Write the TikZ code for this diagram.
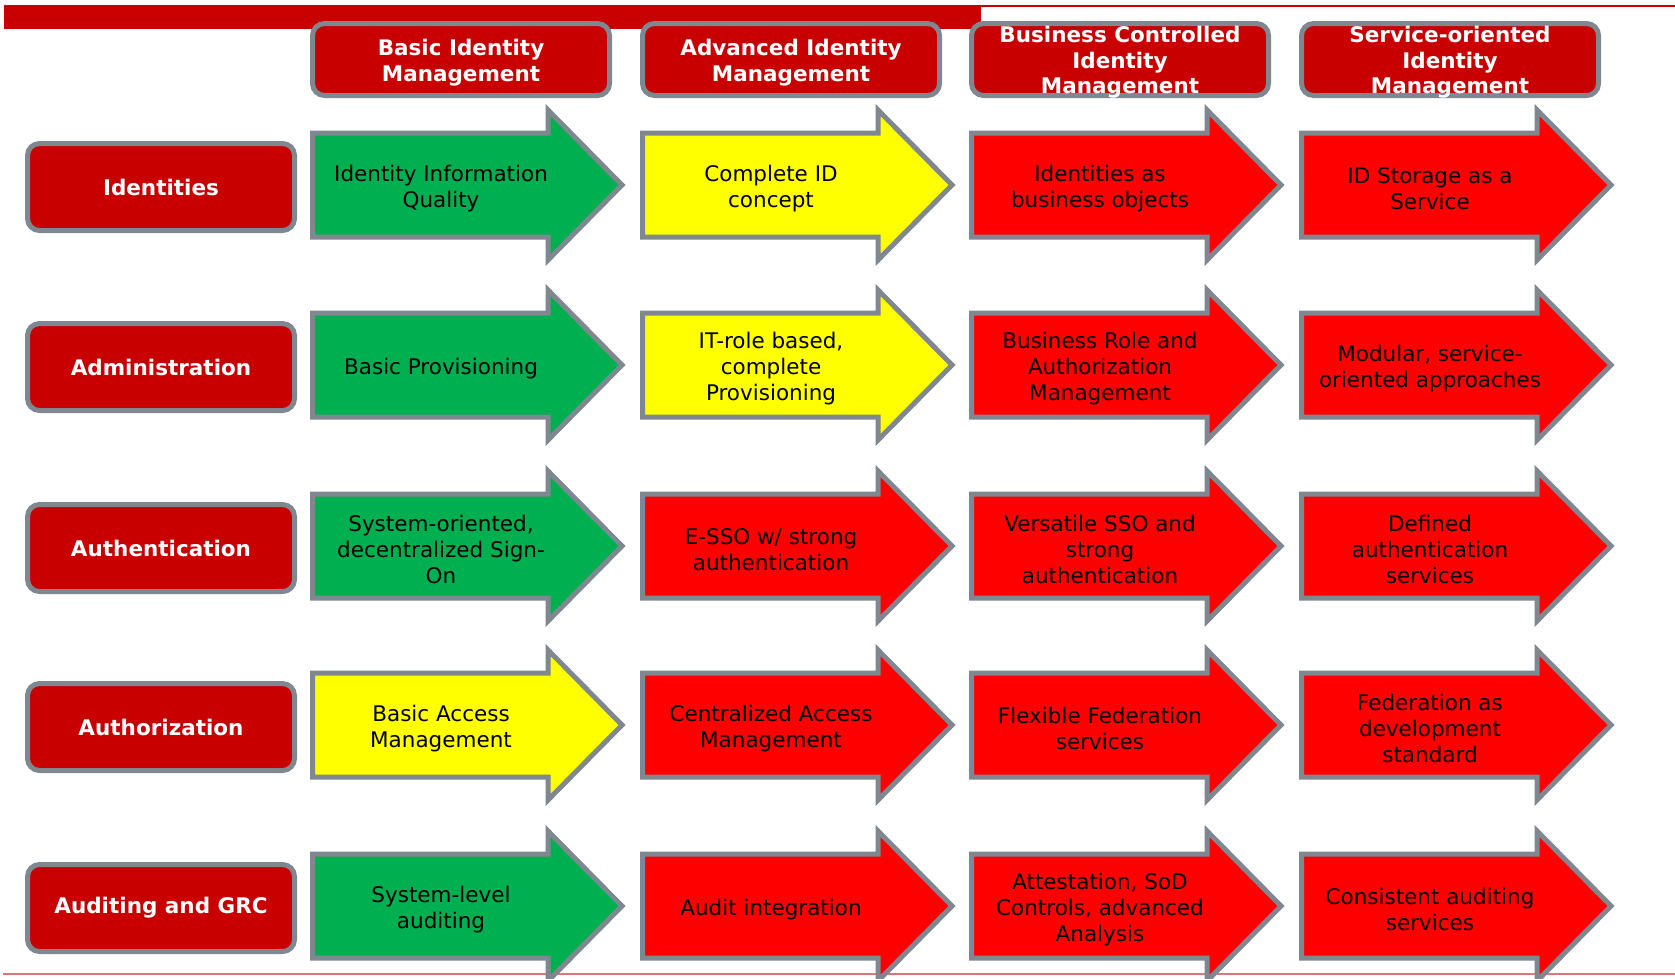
\documentclass[tikz,border=0pt]{standalone}
\usepackage{fontspec}
\setmainfont{DejaVu Sans}
\definecolor{bandred}{HTML}{C80000}
\definecolor{edgegray}{HTML}{7F8790}
\definecolor{stagegreen}{HTML}{00B050}
\definecolor{stageyellow}{HTML}{FFFF00}
\definecolor{stagered}{HTML}{FF0000}
\definecolor{rulepink}{HTML}{E07575}
\tikzset{
  arrowedge/.style={draw=edgegray, line width=5pt, line join=miter},
  stagetext/.style={font=\fontsize{21.5}{26}\selectfont, align=center, text=black, inner sep=0pt, yshift=-3.5pt},
  redbox/.style={draw=edgegray, line width=5pt, fill=bandred, rounded corners=12pt, inner sep=0pt},
  boxtext/.style={font=\bfseries\fontsize{21.5}{25.6}\selectfont, align=center, text=white, inner sep=0pt},
  headtext/.style={boxtext, yshift=-3pt},
}
% #1 node name, #2 left x, #3 centre y, #4 fill colour, #5 text
\newcommand\stagearrow[5]{%
  \begin{scope}[shift={(#2,#3)}]
    \draw[arrowedge, fill=#4] (2.5,-52) -- (238,-52) -- (238,-75) -- (312,0)
      -- (238,75) -- (238,52) -- (2.5,52) -- cycle;
    \node[stagetext] (#1) at (131,0) {#5};
  \end{scope}}
\begin{document}
\begin{tikzpicture}[x=1pt,y=-1pt]
\useasboundingbox (0,0) rectangle (1675,978);

% title band and rules
\fill[bandred] (4,5) rectangle (981,29);
\draw[bandred, line width=2pt] (981,6) -- (1675,6);
\draw[rulepink, line width=1.5pt] (3,974) -- (1675,974);

% column headers
\node[redbox, minimum width=297pt, minimum height=72pt] (h1) at (461,59.5) {};
\node[redbox, minimum width=297pt, minimum height=72pt] (h2) at (791,59.5) {};
\node[redbox, minimum width=297pt, minimum height=72pt] (h3) at (1120,59.5) {};
\node[redbox, minimum width=297pt, minimum height=72pt] (h4) at (1450,59.5) {};
\node[headtext] (h1t) at (h1) {Basic Identity\\Management};
\node[headtext] (h2t) at (h2) {Advanced Identity\\Management};
\node[headtext] (h3t) at (h3) {Business Controlled\\Identity\\Management};
\node[headtext] (h4t) at (h4) {Service-oriented\\Identity\\Management};

% row labels
\node[redbox, minimum width=267pt, minimum height=87pt] (r1) at (161,187) {};
\node[redbox, minimum width=267pt, minimum height=87pt] (r2) at (161,367) {};
\node[redbox, minimum width=267pt, minimum height=87pt] (r3) at (161,548) {};
\node[redbox, minimum width=267pt, minimum height=87pt] (r4) at (161,727) {};
\node[redbox, minimum width=267pt, minimum height=87pt] (r5) at (161,908) {};
\node[boxtext] (r1t) at (r1) {Identities};
\node[boxtext] (r2t) at (r2) {Administration};
\node[boxtext] (r3t) at (r3) {Authentication};
\node[boxtext] (r4t) at (r4) {Authorization};
\node[boxtext] (r5t) at (r5) {Auditing and GRC};

% Identities
\stagearrow{a11}{310}{185}{stagegreen}{Identity Information\\Quality}
\stagearrow{a12}{640}{185}{stageyellow}{Complete ID\\concept}
\stagearrow{a13}{969}{185}{stagered}{Identities as\\business objects}
\stagearrow{a14}{1299}{185}{stagered}{ID Storage as a\\Service}
% Administration
\stagearrow{a21}{310}{365}{stagegreen}{Basic Provisioning}
\stagearrow{a22}{640}{365}{stageyellow}{IT-role based,\\complete\\Provisioning}
\stagearrow{a23}{969}{365}{stagered}{Business Role and\\Authorization\\Management}
\stagearrow{a24}{1299}{365}{stagered}{Modular, service-\\oriented approaches}
% Authentication
\stagearrow{a31}{310}{546}{stagegreen}{System-oriented,\\decentralized Sign-\\On}
\stagearrow{a32}{640}{546}{stagered}{E-SSO w/ strong\\authentication}
\stagearrow{a33}{969}{546}{stagered}{Versatile SSO and\\strong\\authentication}
\stagearrow{a34}{1299}{546}{stagered}{Defined\\authentication\\services}
% Authorization
\stagearrow{a41}{310}{725}{stageyellow}{Basic Access\\Management}
\stagearrow{a42}{640}{725}{stagered}{Centralized Access\\Management}
\stagearrow{a43}{969}{725}{stagered}{Flexible Federation\\services}
\stagearrow{a44}{1299}{725}{stagered}{Federation as\\development\\standard}
% Auditing and GRC
\stagearrow{a51}{310}{906}{stagegreen}{System-level\\auditing}
\stagearrow{a52}{640}{906}{stagered}{Audit integration}
\stagearrow{a53}{969}{906}{stagered}{Attestation, SoD\\Controls, advanced\\Analysis}
\stagearrow{a54}{1299}{906}{stagered}{Consistent auditing\\services}
\end{tikzpicture}
\end{document}
